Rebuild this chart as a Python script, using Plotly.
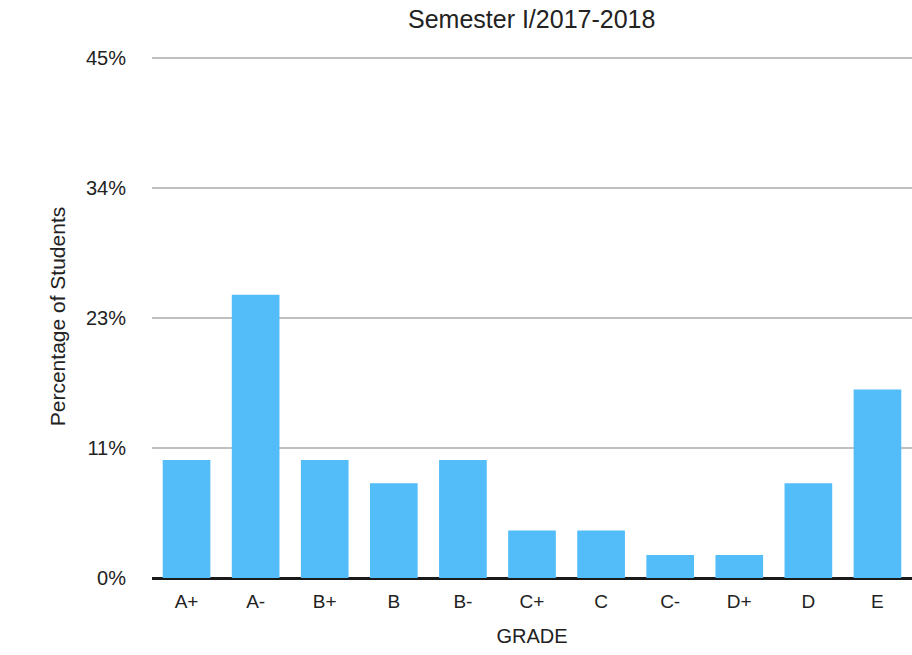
import plotly.graph_objects as go

grades = ["A+", "A-", "B+", "B", "B-", "C+", "C", "C-", "D+", "D", "E"]
percent = [10.2, 24.5, 10.2, 8.2, 10.2, 4.1, 4.1, 2.0, 2.0, 8.2, 16.3]
tick_vals = [0, 11.25, 22.5, 33.75, 45]
tick_text = ["0%", "11%", "23%", "34%", "45%"]

font_family = "Liberation Sans, Arial, Helvetica, sans-serif"

fig = go.Figure(go.Bar(
    x=grades, y=percent,
    marker=dict(color="#53BDFA", line=dict(width=0)),
    hovertemplate="%{x}: %{y:.1f}%<extra></extra>",
))

fig.update_layout(
    width=912, height=655,
    margin=dict(l=152, r=0, t=55, b=77),
    paper_bgcolor="white", plot_bgcolor="white",
    bargap=0.31,
    showlegend=False,
    font=dict(family=font_family, size=20, color="#222222"),
    title=dict(text="Semester I/2017-2018", x=0.583, xanchor="center",
               y=0.970, yanchor="middle",
               font=dict(size=25, color="#222222", family=font_family)),
    xaxis=dict(
        title=dict(text="GRADE", standoff=17, font=dict(size=20)),
        showgrid=False, showline=False, zeroline=False,
        ticks="", ticklabelstandoff=10,
        tickfont=dict(size=19),
    ),
    yaxis=dict(
        title=dict(text="Percentage of Students", standoff=14, font=dict(size=21)),
        range=[0, 45.25], tickvals=tick_vals, ticktext=tick_text,
        showgrid=True, gridcolor="#bfbfbf", gridwidth=1.5,
        zeroline=True, zerolinecolor="#1a1a1a", zerolinewidth=2.5,
        showline=False, ticks="", ticklabelstandoff=25,
        tickfont=dict(size=20),
    ),
)

fig.write_html("out.html")
